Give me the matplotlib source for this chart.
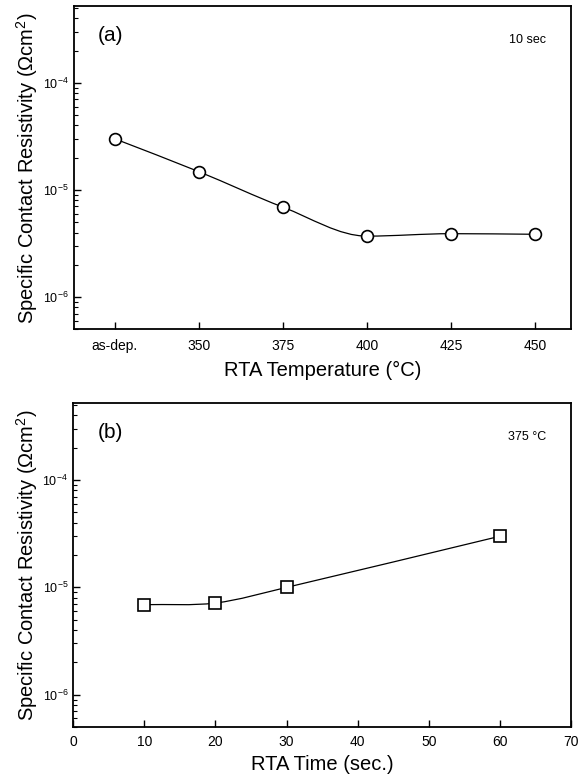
import matplotlib
matplotlib.use('Agg')
import matplotlib.pyplot as plt
import numpy as np
from matplotlib.path import Path
from matplotlib.patches import PathPatch

plt.rcParams['font.family'] = ['Liberation Sans', 'DejaVu Sans']
plt.rcParams['mathtext.fontset'] = 'custom'
plt.rcParams['mathtext.rm'] = 'Liberation Sans'
plt.rcParams['mathtext.it'] = 'Liberation Sans:italic'
plt.rcParams['mathtext.bf'] = 'Liberation Sans:bold'

# (a) resistivity vs RTA temperature, 10 sec
temp_labels = ['as-dep.', '350', '375', '400', '425', '450']
rho_temp = [3.0e-5, 1.48e-5, 6.9e-6, 3.7e-6, 3.9e-6, 3.85e-6]

# (b) resistivity vs RTA time, 375 C
times = [10, 20, 30, 60]
rho_time = [6.9e-6, 7.15e-6, 1.0e-5, 3.0e-5]


def smooth_line(ax, x, y):
    # monotone cubic path in (x, log y), drawn as bezier segments
    x = np.asarray(x, float)
    ly = np.log10(y)
    n = len(x)
    d = np.diff(ly) / np.diff(x)
    m = np.zeros(n)
    m[0] = d[0]
    m[-1] = d[-1]
    for i in range(1, n - 1):
        if d[i - 1] * d[i] > 0:
            m[i] = (ly[i + 1] - ly[i - 1]) / (x[i + 1] - x[i - 1])
    verts = [(x[0], 10 ** ly[0])]
    codes = [Path.MOVETO]
    for i in range(n - 1):
        h = x[i + 1] - x[i]
        verts += [(x[i] + h / 3, 10 ** (ly[i] + m[i] * h / 3)),
                  (x[i + 1] - h / 3, 10 ** (ly[i + 1] - m[i + 1] * h / 3)),
                  (x[i + 1], 10 ** ly[i + 1])]
        codes += [Path.CURVE4] * 3
    ax.add_patch(PathPatch(Path(verts, codes), fill=False, lw=0.9, color='black', zorder=2))


def style(ax):
    ax.set_yscale('log')
    ax.set_ylim(5e-7, 5.2e-4)
    ax.tick_params(which='both', direction='in', right=False, top=False, labelsize=10)
    ax.tick_params(axis='y', labelsize=9)
    ax.tick_params(which='major', length=5, width=1)
    ax.tick_params(which='minor', length=3, width=0.8)
    for s in ax.spines.values():
        s.set_linewidth(1.3)
    ax.set_ylabel('Specific Contact Resistivity (Ωcm$^2$)', fontsize=14.5, labelpad=2)


fig = plt.figure(figsize=(5.8, 7.8), dpi=100)

ax1 = fig.add_axes([0.127, 0.578, 0.858, 0.414])
xi = np.arange(len(temp_labels))
smooth_line(ax1, xi, rho_temp)
ax1.plot(xi, rho_temp, 'o', ms=8.5, mfc='white', mec='black', mew=1.2, zorder=3)
style(ax1)
ax1.set_xlim(-0.49, 5.43)
ax1.set_xticks(xi)
ax1.set_xticklabels(temp_labels)
ax1.tick_params(axis='x', pad=7)
ax1.set_xlabel('RTA Temperature (°C)', fontsize=14.5, labelpad=6)
ax1.text(0.049, 0.94, '(a)', transform=ax1.transAxes, fontsize=15, va='top')
ax1.text(0.95, 0.915, '10 sec', transform=ax1.transAxes, fontsize=9, ha='right', va='top')

ax2 = fig.add_axes([0.126, 0.068, 0.859, 0.415])
smooth_line(ax2, times, rho_time)
ax2.plot(times, rho_time, 's', ms=8, mfc='white', mec='black', mew=1.2, zorder=3)
style(ax2)
ax2.set_xlim(0, 70)
ax2.set_xticks(np.arange(0, 71, 10))
ax2.tick_params(axis='x', pad=6)
ax2.set_xlabel('RTA Time (sec.)', fontsize=14.5, labelpad=4)
ax2.text(0.049, 0.94, '(b)', transform=ax2.transAxes, fontsize=15, va='top')
ax2.text(0.95, 0.915, '375 °C', transform=ax2.transAxes, fontsize=9, ha='right', va='top')

fig.savefig('out.png', dpi=100)
